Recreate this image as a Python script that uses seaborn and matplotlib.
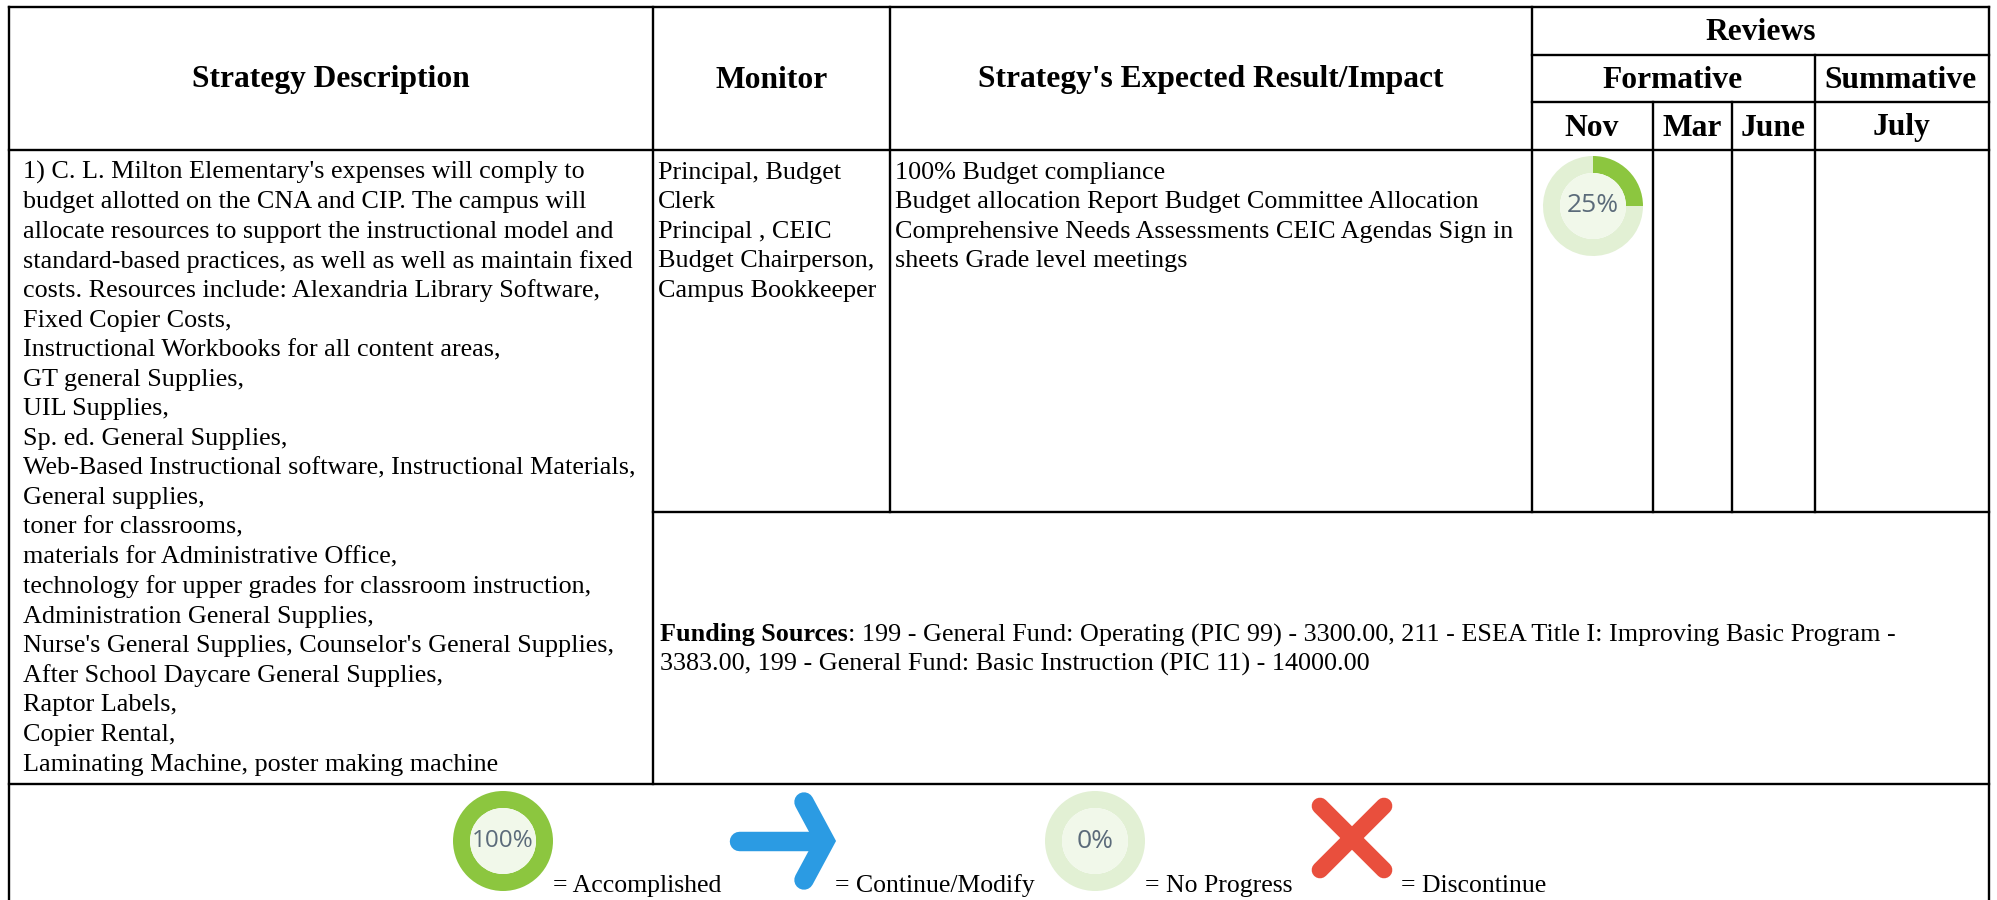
import matplotlib
matplotlib.use('Agg')
import matplotlib.pyplot as plt
import seaborn as sns

sns.set_theme(style='white')
plt.rcParams['font.family'] = ['Liberation Serif', 'DejaVu Serif']

# table contents
strategy_lines = [
    "1) C. L. Milton Elementary's expenses will comply to",
    "budget allotted on the CNA and CIP. The campus will",
    "allocate resources to support the instructional model and",
    "standard-based practices, as well as well as maintain fixed",
    "costs. Resources include: Alexandria Library Software,",
    "Fixed Copier Costs,",
    "Instructional Workbooks for all content areas,",
    "GT general Supplies,",
    "UIL Supplies,",
    "Sp. ed. General Supplies,",
    "Web-Based Instructional software, Instructional Materials,",
    "General supplies,",
    "toner for classrooms,",
    "materials for Administrative Office,",
    "technology for upper grades for classroom instruction,",
    "Administration General Supplies,",
    "Nurse's General Supplies, Counselor's General Supplies,",
    "After School Daycare General Supplies,",
    "Raptor Labels,",
    "Copier Rental,",
    "Laminating Machine, poster making machine",
]
monitor_lines = ["Principal, Budget", "Clerk", "Principal , CEIC",
                 "Budget Chairperson,", "Campus Bookkeeper"]
impact_lines = [
    "100% Budget compliance",
    "Budget allocation Report Budget Committee Allocation",
    "Comprehensive Needs Assessments CEIC Agendas Sign in",
    "sheets Grade level meetings",
]
funding_head = "Funding Sources"
funding_lines = [
    ": 199 - General Fund: Operating (PIC 99) - 3300.00, 211 - ESEA Title I: Improving Basic Program -",
    "3383.00, 199 - General Fund: Basic Instruction (PIC 11) - 14000.00",
]
nov_progress = [25, 75]
accomplished_progress = [100, 0]
no_progress = [0, 100]

W, H = 1997, 900
GREEN = '#8CC63F'
PALE = '#E2F0D4'
INNER = '#F1F8EA'
BLUE = '#2B9BE3'
RED = '#E94F3D'

fig = plt.figure(figsize=(W / 100, H / 100), dpi=100, facecolor='white')
ax = fig.add_axes([0, 0, 1, 1])
ax.set_xlim(0, W)
ax.set_ylim(H, 0)
ax.axis('off')

# grid
lw = 1.7
for y, x0, x1 in [(7, 9, 1989), (55, 1532, 1989), (102, 1532, 1989),
                  (150, 9, 1989), (512, 653, 1989), (784, 9, 1989)]:
    ax.plot([x0, x1], [y, y], color='black', lw=lw, solid_capstyle='projecting')
for x, y0, y1 in [(9, 7, 900), (653, 7, 784), (890, 7, 512), (1532, 7, 512),
                  (1653, 102, 512), (1732, 102, 512), (1815, 55, 512), (1989, 7, 900)]:
    ax.plot([x, x], [y0, y1], color='black', lw=lw, solid_capstyle='projecting')

# header
hsize = 22.7
for label, x, y in [('Strategy Description', 331, 80), ('Monitor', 772, 80),
                    ("Strategy's Expected Result/Impact", 1211, 80),
                    ('Reviews', 1761, 33), ('Formative', 1673, 80), ('Summative', 1901, 80),
                    ('Nov', 1592, 128), ('Mar', 1692, 128), ('June', 1773, 128), ('July', 1901, 128)]:
    ax.text(x, y, label, ha='center', va='center', fontsize=hsize, fontweight='bold', color='black')

# body
bsize = 18.85
step = 29.6
for lines, x in [(strategy_lines, 23), (monitor_lines, 658), (impact_lines, 895)]:
    for i, line in enumerate(lines):
        ax.text(x, 172.5 + i * step, line, ha='left', va='center', fontsize=bsize, color='black')

head = ax.text(660, 635, funding_head, ha='left', va='center', fontsize=bsize, fontweight='bold', color='black')
fig.canvas.draw()
head_end = head.get_window_extent().x1
ax.text(head_end, 635, funding_lines[0], ha='left', va='center', fontsize=bsize, color='black')
ax.text(660, 664, funding_lines[1], ha='left', va='center', fontsize=bsize, color='black')


def donut(values, cx, cy, r, label, size):
    sub = fig.add_axes([(cx - r) / W, 1 - (cy + r) / H, 2 * r / W, 2 * r / H])
    sub.pie(values, colors=[GREEN, PALE], startangle=90, counterclock=False, radius=1,
            wedgeprops={'width': 0.34, 'linewidth': 0})
    sub.add_patch(plt.Circle((0, 0), 0.66, color=INNER, lw=0))
    sub.set_xlim(-1, 1)
    sub.set_ylim(-1, 1)
    sub.axis('off')
    sub.text(0, 0, label, ha='center', va='center', fontsize=size, color='#5B6B7A', family='Open Sans')


donut(nov_progress, 1593, 206, 50, '25%', 19)
donut(accomplished_progress, 503, 841, 50, '100%', 17.5)
donut(no_progress, 1095, 841, 50, '0%', 19)

# arrow icon
ax.plot([739, 822], [841, 841], color=BLUE, lw=14, solid_capstyle='round')
ax.plot([804, 825, 804], [802, 841, 880], color=BLUE, lw=14, solid_capstyle='round', solid_joinstyle='miter')

# cross icon
ax.plot([1320, 1384], [806, 870], color=RED, lw=12, solid_capstyle='round')
ax.plot([1320, 1384], [870, 806], color=RED, lw=12, solid_capstyle='round')

# legend labels
for label, x in [('= Accomplished', 553), ('= Continue/Modify', 835),
                 ('= No Progress', 1145), ('= Discontinue', 1401)]:
    ax.text(x, 886, label, ha='left', va='center', fontsize=18.5, color='black')

fig.savefig('out.png', dpi=100, facecolor='white')
